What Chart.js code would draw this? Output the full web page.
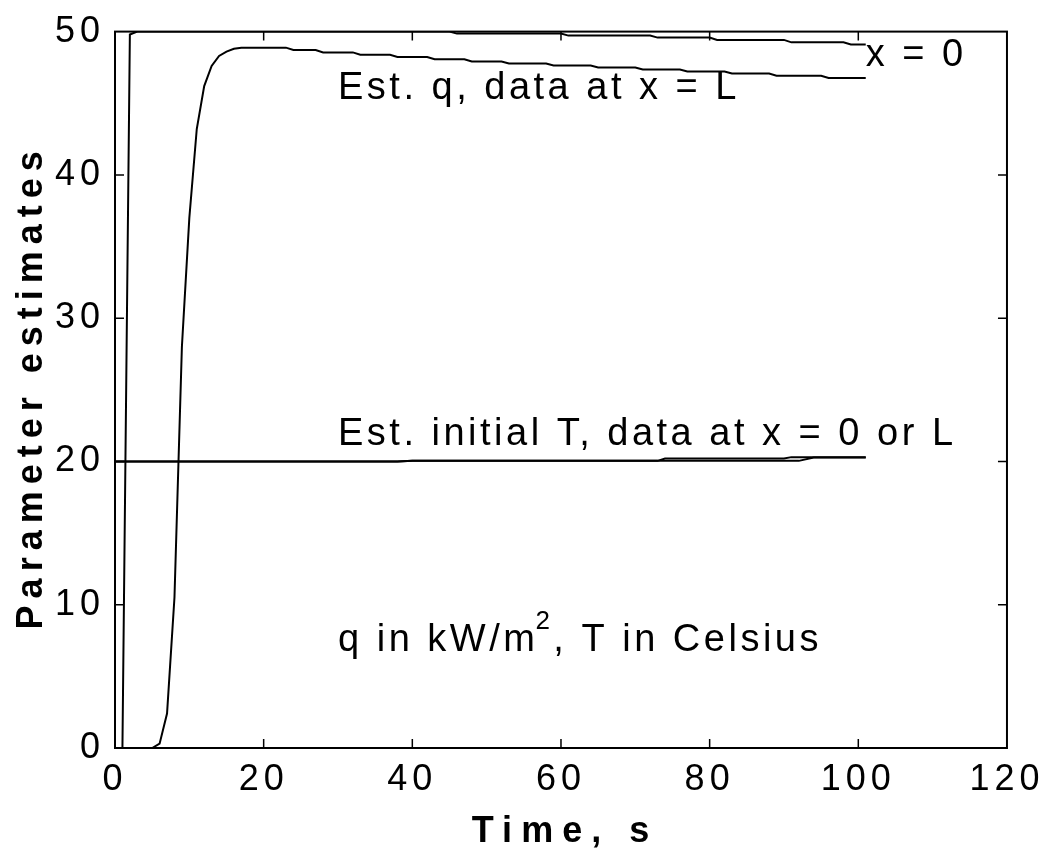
<!DOCTYPE html>
<html>
<head>
<meta charset="utf-8">
<script src="https://cdn.jsdelivr.net/npm/chart.js@4.4.1/dist/chart.umd.min.js"></script>
<style>
  html, body { margin: 0; padding: 0; background: #fff; }
  #wrap { width: 1047px; height: 855px; }
</style>
</head>
<body>
<div id="wrap"><canvas id="paramChart" width="1047" height="855"></canvas></div>
<script>
// Est. q, data at x = 0
const qX0Time = [0, 1, 2, 3, 45, 46, 60, 61, 72, 73, 80, 81, 90, 91, 98, 99, 101];
const qX0Vals = [0, 0, 49.8, 50, 50, 49.86, 49.86, 49.72, 49.72, 49.58, 49.58, 49.42, 49.42, 49.25, 49.25, 49.1, 49.1];

// Est. q, data at x = L
const qXLTime = [0, 5, 6, 7, 8, 9, 10, 11, 12, 13, 14, 15, 16, 17, 23, 24, 27, 28, 32, 33, 37, 38, 42, 43, 47, 48,
                 52, 53, 58, 59, 64, 65, 70, 71, 76, 77, 82, 83, 88, 89, 95, 96, 101];
const qXLVals = [0, 0, 0.3, 2.4, 10.5, 28, 37, 43.2, 46.2, 47.6, 48.3, 48.6, 48.8, 48.88, 48.88, 48.72, 48.72, 48.55,
                 48.55, 48.38, 48.38, 48.23, 48.23, 48.07, 48.07, 47.91, 47.91, 47.77, 47.77, 47.64, 47.64, 47.5,
                 47.5, 47.36, 47.36, 47.22, 47.22, 47.07, 47.07, 46.92, 46.92, 46.76, 46.76];

// Est. initial T, data at x = 0 and at x = L
const tX0Time = [0, 38, 40, 73, 74, 90, 91, 101];
const tX0Vals = [20, 20, 20.04, 20.04, 20.2, 20.2, 20.3, 20.3];
const tXLTime = [0, 38, 40, 92, 94, 101];
const tXLVals = [20, 20, 20.04, 20.04, 20.28, 20.28];

// axes
const xTicks = [0, 20, 40, 60, 80, 100, 120];
const yTicks = [0, 10, 20, 30, 40, 50];

// texts placed in data coordinates
const notes = [
    { x: 101, y: 48.3, text: 'x = 0' },
    { x: 30, y: 46.0, text: 'Est. q, data at x = L' },
    { x: 30, y: 21.9, text: 'Est. initial T, data at x = 0 or L' }
];

const FONT = "'Liberation Sans', Arial, Helvetica, sans-serif";

function toPoints(ts, vs) {
    return ts.map((t, i) => ({ x: t, y: vs[i] }));
}

function lineSet(label, ts, vs) {
    return {
        label: label,
        data: toPoints(ts, vs),
        borderColor: '#000',
        borderWidth: 2,
        pointRadius: 0,
        fill: false,
        tension: 0
    };
}

// cadre + graduations vers l'intérieur, titres et annotations
const framePlugin = {
    id: 'frame',
    beforeDraw(chart) {
        chart.ctx.letterSpacing = '5px';
    },
    afterDraw(chart) {
        const { ctx, chartArea: a, scales } = chart;
        const xs = scales.x, ys = scales.y;
        ctx.save();
        ctx.strokeStyle = '#000';
        ctx.lineWidth = 1.5;
        ctx.beginPath();
        xTicks.slice(1, -1).forEach(v => {
            const px = xs.getPixelForValue(v);
            ctx.moveTo(px, a.bottom); ctx.lineTo(px, a.bottom - 9);
            ctx.moveTo(px, a.top); ctx.lineTo(px, a.top + 9);
        });
        yTicks.slice(1, -1).forEach(v => {
            const py = ys.getPixelForValue(v);
            ctx.moveTo(a.left, py); ctx.lineTo(a.left + 9, py);
            ctx.moveTo(a.right, py); ctx.lineTo(a.right - 9, py);
        });
        ctx.stroke();
        ctx.lineWidth = 2;
        ctx.strokeRect(a.left, a.top, a.right - a.left, a.bottom - a.top);

        // annotations
        ctx.fillStyle = '#000';
        ctx.font = '38px ' + FONT;
        ctx.letterSpacing = '3.5px';
        ctx.textAlign = 'left';
        ctx.textBaseline = 'middle';
        notes.forEach(n => {
            ctx.fillText(n.text, xs.getPixelForValue(n.x), ys.getPixelForValue(n.y));
        });

        // q in kW/m^2, T in Celsius
        let px = xs.getPixelForValue(30);
        const py = ys.getPixelForValue(7.5);
        const part1 = 'q in kW/m';
        ctx.fillText(part1, px, py);
        px += ctx.measureText(part1).width;
        ctx.font = '26px ' + FONT;
        ctx.fillText('2', px - 3, py - 19);
        px += ctx.measureText('2').width;
        ctx.font = '38px ' + FONT;
        ctx.fillText(', T in Celsius', px - 3, py);

        // axis titles
        ctx.font = 'bold 36px ' + FONT;
        ctx.letterSpacing = '9px';
        ctx.textAlign = 'center';
        ctx.textBaseline = 'alphabetic';
        ctx.fillText('Time, s', (a.left + a.right) / 2 + 4, 842);
        ctx.letterSpacing = '7px';
        ctx.translate(42, (a.top + a.bottom) / 2);
        ctx.rotate(-Math.PI / 2);
        ctx.fillText('Parameter estimates', 3, 0);
        ctx.restore();
    }
};

document.addEventListener('DOMContentLoaded', function () {
    const ctx = document.getElementById('paramChart').getContext('2d');
    new Chart(ctx, {
        type: 'line',
        data: {
            datasets: [
                lineSet('Est. q, data at x = 0', qX0Time, qX0Vals),
                lineSet('Est. q, data at x = L', qXLTime, qXLVals),
                lineSet('Est. initial T, x = 0', tX0Time, tX0Vals),
                lineSet('Est. initial T, x = L', tXLTime, tXLVals)
            ]
        },
        options: {
            responsive: false,
            animation: false,
            devicePixelRatio: 1,
            layout: { padding: { left: 0, right: 38, top: 29, bottom: 0 } },
            plugins: {
                legend: { display: false },
                tooltip: { enabled: false }
            },
            scales: {
                x: {
                    type: 'linear',
                    min: 0,
                    max: 120,
                    afterBuildTicks: s => { s.ticks = xTicks.map(v => ({ value: v })); },
                    afterFit: s => { s.height = 107; },
                    ticks: { color: '#000', font: { family: FONT, size: 36 }, padding: 10, maxRotation: 0 },
                    grid: { display: false, drawTicks: false },
                    border: { display: false }
                },
                y: {
                    min: 0,
                    max: 50,
                    afterBuildTicks: s => { s.ticks = yTicks.map(v => ({ value: v })); },
                    afterFit: s => { s.width = 115; },
                    ticks: { color: '#000', font: { family: FONT, size: 36 }, padding: 10 },
                    grid: { display: false, drawTicks: false },
                    border: { display: false }
                }
            }
        },
        plugins: [framePlugin]
    });
});
</script>
</body>
</html>
